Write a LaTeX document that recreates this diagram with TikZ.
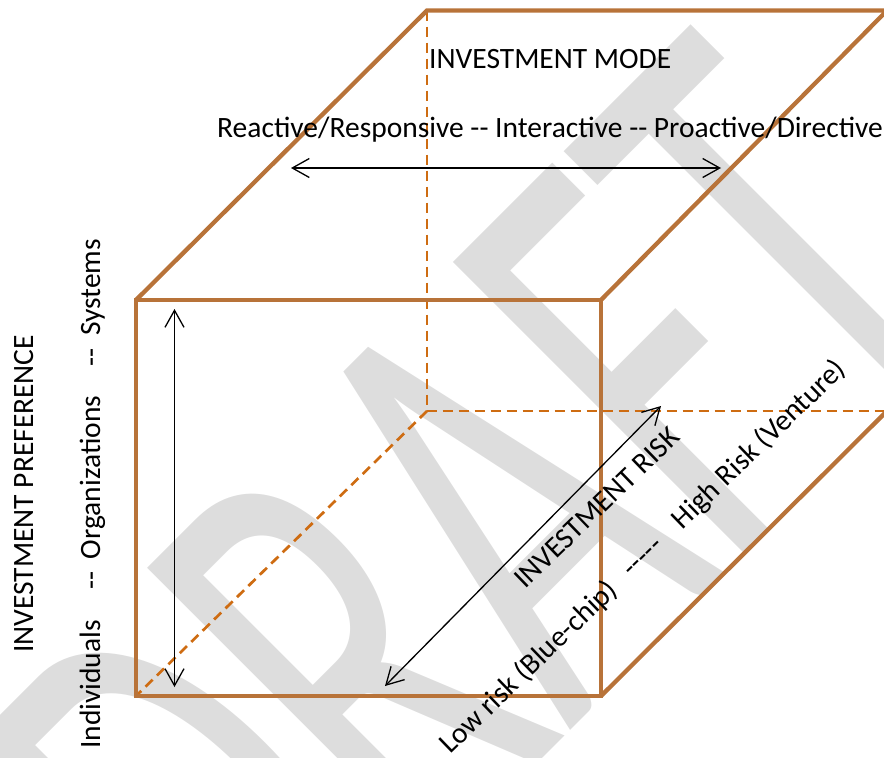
\documentclass[tikz,border=0pt]{standalone}
\usepackage{fontspec}
\setmainfont{Carlito}
\usepackage{graphicx}
\usepackage{xcolor}
\usepackage{tikz}
\usetikzlibrary{arrows.meta}

\definecolor{cubebrown}{RGB}{184,115,57}
\definecolor{hiddenorange}{RGB}{206,108,18}
\definecolor{stampgray}{RGB}{221,221,221}

\begin{document}
\begin{tikzpicture}[x=1pt,y=-1pt,font=\fontsize{29.5}{34}\selectfont,
  cubeedge/.style={line width=4.3pt,cubebrown},
  hiddenedge/.style={line width=2.7pt,hiddenorange,dash pattern=on 10pt off 6pt},
  axisarrow/.style={line width=1.3pt,{Straight Barb[length=17pt,width=19pt]}-{Straight Barb[length=17pt,width=19pt]}},
  axislabel/.style={inner sep=0pt,anchor=base west}]
\useasboundingbox (0,0) rectangle (884,758);

% watermark stamp, behind everything
\begin{scope}
\clip (0,0) rectangle (884,758);
\node[inner sep=0pt,anchor=base west,rotate=45,text=stampgray,
  font=\fontsize{645}{645}\selectfont] (stamp) at (252,1049) {\scalebox{0.6}[1]{DRAFT}};
\end{scope}

% front face f1..f4, back face b1..b4 (counter-clockwise from bottom left)
\coordinate (f1) at (136,696);
\coordinate (f2) at (601,696);
\coordinate (f3) at (601,300);
\coordinate (f4) at (136,300);
\coordinate (b1) at (427,411);
\coordinate (b2) at (887,411);
\coordinate (b3) at (887,10.5);
\coordinate (b4) at (427,10.5);

% hidden edges
\draw[hiddenedge] (b4) -- (b1) -- (b2);
\draw[hiddenedge] (b1) -- (f1);

% visible edges
\draw[cubeedge] (f1) rectangle (f3);
\draw[cubeedge] (f4) -- (b4) -- (b3) -- (f3);
\draw[cubeedge] (f2) -- (b2);

% the three axes
\coordinate (modeL) at (291,168);
\coordinate (modeR) at (721,168);
\coordinate (prefT) at (174.5,309);
\coordinate (prefB) at (174.5,687);
\coordinate (riskL) at (385,686);
\coordinate (riskH) at (661,406);
\draw[axisarrow] (modeL) -- (modeR);
\draw[axisarrow] (prefT) -- (prefB);
\draw[axisarrow] (riskL) -- (riskH);

\node[axislabel] (mode) at (429,68) {INVESTMENT MODE};
\node[axislabel] (modescale) at (217,137) {Reactive/Responsive -{}- Interactive -{}- Proactive/Directive};
\node[axislabel,rotate=90] (pref) at (33,653) {INVESTMENT PREFERENCE};
\node[axislabel,rotate=90] (prefscale) at (100,749)
  {Individuals\hspace{31pt}-{}-\hspace{12pt}Organizations\hspace{29pt}-{}-\hspace{13pt}Systems};
\node[axislabel,rotate=44] (risk) at (525,590) {INVESTMENT RISK};
\node[axislabel,rotate=44] (riskscale) at (450,755)
  {Low risk (Blue-chip)\hspace{19pt}-{}-{}-{}-{}-\hspace{25pt}High Risk (Venture)};
\end{tikzpicture}
\end{document}
